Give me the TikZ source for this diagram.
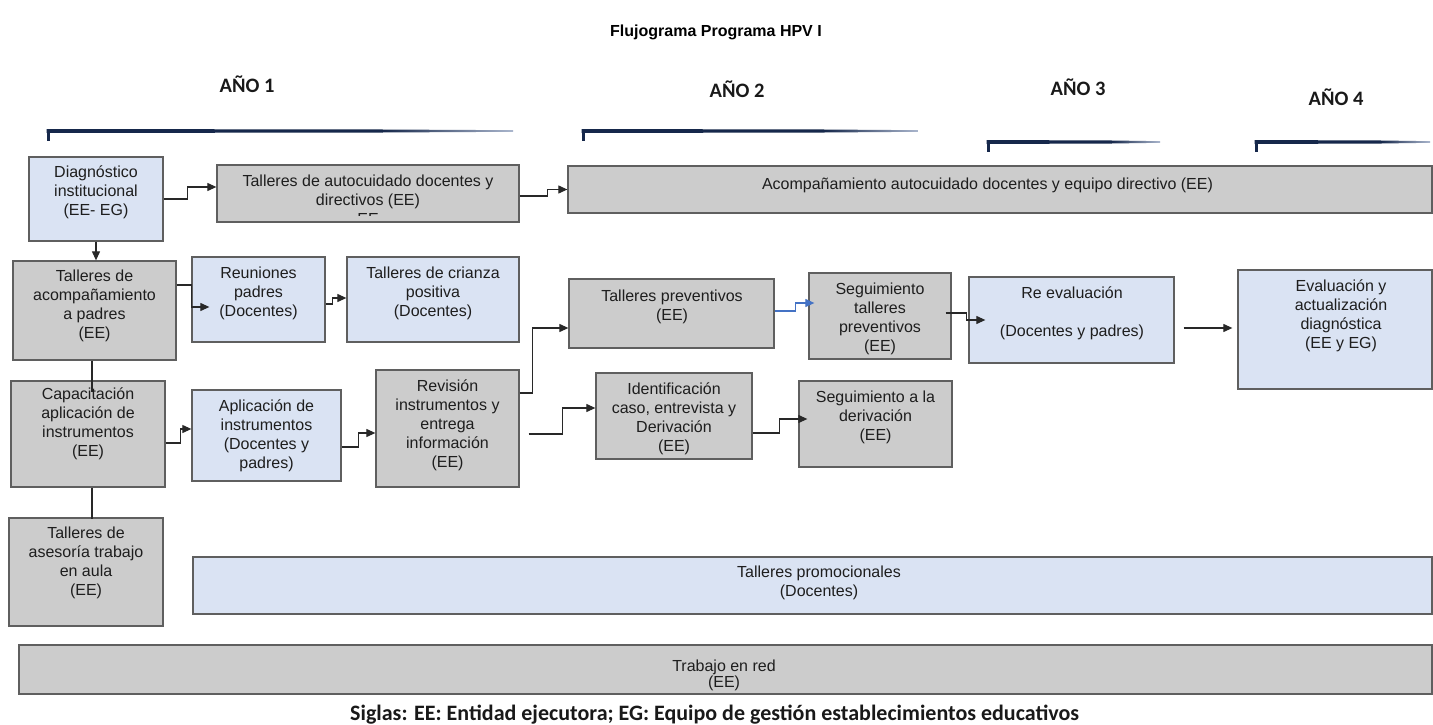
\documentclass[tikz,border=0pt]{standalone}
\usepackage{fontspec}
\setmainfont{Liberation Sans}
\newfontfamily\calib{Carlito}
\usetikzlibrary{calc,arrows.meta}
\definecolor{lblue}{RGB}{218,227,243}
\definecolor{lgray}{RGB}{204,204,204}
\definecolor{bord}{RGB}{95,95,95}
\definecolor{navy}{RGB}{22,40,75}
\definecolor{navyl}{RGB}{170,182,205}
\definecolor{conn}{RGB}{40,40,40}
\definecolor{bluec}{RGB}{68,114,196}
\definecolor{txtc}{RGB}{30,30,30}
\newcommand\mybox[6]{%
  \pgfmathsetmacro\cxx{(#3+#5)/2}\pgfmathsetmacro\cyy{(#4+#6)/2}%
  \pgfmathsetmacro\ww{#5-#3}\pgfmathsetmacro\hh{#6-#4}%
  \node[#2, minimum width=\ww pt, minimum height=\hh pt] (#1) at (\cxx,\cyy) {};}
\newcommand\yearbar[3]{%
  \pgfmathsetmacro\xm{#1+0.72*(#2-#1)}%
  \fill[navy] (#1-1.5,#3-2) -- (\xm,#3-1.5) -- (\xm,#3+1.5) -- (#1-1.5,#3+2) -- cycle;
  \shade[left color=navy, right color=navyl] (\xm,#3-1.5) -- (#2,#3-0.8) -- (#2,#3+0.8) -- (\xm,#3+1.5) -- cycle;
  \fill[navy] (#1-1.5,#3-2) rectangle (#1+1.5,#3+10);}
\begin{document}
\begin{tikzpicture}[x=1pt,y=-1pt,
  bxg/.style={draw=bord,line width=1.3pt,fill=lgray,inner sep=0pt},
  bxb/.style={draw=bord,line width=1.3pt,fill=lblue,inner sep=0pt},
  txt/.style={align=center,font=\fontsize{16}{19}\selectfont,inner sep=0pt,text=txtc},
  yr/.style={font=\calib\bfseries\fontsize{20.5}{23}\selectfont,inner sep=0pt,text=black!90},
  ln/.style={draw=conn,line width=1.1pt},
  arr/.style={ln,-{Triangle[length=9pt,width=8pt]}},
]
\fill[white] (0,0) rectangle (1433,725);
\useasboundingbox (0,0) rectangle (1433,725);

% title and years
\node[font=\bfseries\fontsize{16}{19}\selectfont,inner sep=0pt] (title) at (716,32) {Flujograma Programa HPV I};
\node[yr] (y1) at (247,84.5) {AÑO 1};
\node[yr] (y2) at (737,89) {AÑO 2};
\node[yr] (y3) at (1078,87.5) {AÑO 3};
\node[yr] (y4) at (1336,97.5) {AÑO 4};
\yearbar{48}{513}{131}
\yearbar{583}{918}{131}
\yearbar{988}{1160}{142}
\yearbar{1256}{1430}{142}

% boxes
\mybox{diag}{bxb}{29}{157}{163}{241}
\mybox{auto}{bxg}{217}{165}{519}{222}
\mybox{acompA}{bxg}{568}{166}{1432}{213}
\mybox{acomp}{bxg}{13}{261}{176}{360}
\mybox{reun}{bxb}{192}{257}{325}{342}
\mybox{crianza}{bxb}{347}{257}{519}{342}
\mybox{capac}{bxg}{11}{381}{165}{487}
\mybox{aplic}{bxb}{192}{390}{341}{481}
\mybox{revis}{bxg}{376}{370}{519}{487}
\mybox{aseso}{bxg}{9}{518}{163}{626}
\mybox{prev}{bxg}{569}{279}{774}{348}
\mybox{segt}{bxg}{809}{273}{951}{359}
\mybox{ident}{bxg}{596}{373}{752}{459}
\mybox{segd}{bxg}{799}{381}{952}{467}
\mybox{reev}{bxb}{969}{277}{1174}{363}
\mybox{eval}{bxb}{1238}{270}{1432}{389}
\mybox{promo}{bxb}{193}{557}{1432}{614}
\mybox{red}{bxg}{19}{645}{1432}{694}

% connectors
\draw[arr] (diag.east) -- ++(24,0) |- ($(auto.west)+(0,-6.5)$);
\draw[arr] (diag.south) -- (diag.south |- acomp.north);
\draw[arr] ($(acomp.east)+(0,-25.5)$) -| ($(reun.west)+(0,7.5)$) -- ++(18,0);
\draw[arr] ($(reun.east)+(0,4.5)$) -- ++(7,0) |- ($(crianza.west)+(0,-1.5)$);
\draw[arr] ($(auto.east)+(0,2.5)$) -- ++(28,0) |- (acompA.west);
\draw[ln] ($(acomp.south)+(-2.5,0)$) -- ++(0,31);
\draw[arr] ($(capac.east)+(0,9)$) -- ++(15,0) |- ($(aplic.west)+(0,-6.5)$);
\draw[arr] ($(aplic.east)+(0,11.5)$) -- ++(17,0) |- ($(revis.west)+(0,4.5)$);
\draw[ln] ($(capac.south)+(4,0)$) -- ++(0,31);
\draw[arr] ($(revis.east)+(0,-35.5)$) -- ++(13,0) |- ($(prev.west)+(0,14.5)$);
\draw[arr] ($(revis.east)+(9,5.5)$) -- ++(34,0) |- ($(ident.west)+(0,-8)$);
\draw[arr] ($(ident.east)+(0,17)$) -- ++(27,0) |- ($(segd.west)+(9,-5)$);
\draw[arr,draw=bluec] ($(prev.east)+(0,-2.5)$) -- ++(21,0) |- ($(segt.west)+(6,-13)$);
\draw[arr] ($(segt.east)+(-6,-3)$) -- ++(21,0) |- ($(reev.west)+(17,0)$);
\draw[arr] ($(reev.east)+(9,8)$) -- ($(eval.west)+(-5,-1.5)$);

% texts
\node[txt] (diagT) at (96,192) {Diagnóstico\\institucional\\(EE- EG)};
\node[txt] (autoT) at (368,192) {Talleres de autocuidado docentes y\\directivos (EE)};
\begin{scope}
  \clip (300,205) rectangle (440,215.5);
  \node[txt] (autoEE) at (368,219.3) {EE};
\end{scope}
\node[txt] (acompAT) at (987.5,185) {Acompañamiento autocuidado docentes y equipo directivo (EE)};
\node[txt] (acompT) at (94.5,306) {Talleres de\\acompañamiento\\a padres\\(EE)};
\node[txt] (reunT) at (258.5,293) {Reuniones\\padres\\(Docentes)};
\node[txt] (crianzaT) at (433,293) {Talleres de crianza\\positiva\\(Docentes)};
\node[txt] (capacT) at (88,424) {Capacitación\\aplicación de\\instrumentos\\(EE)};
\node[txt] (aplicT) at (266.5,436) {Aplicación de\\instrumentos\\(Docentes y\\padres)};
\node[txt] (revisT) at (447.5,425) {Revisión\\instrumentos y\\entrega\\información\\(EE)};
\node[txt] (asesoT) at (86,563) {Talleres de\\asesoría trabajo\\en aula\\(EE)};
\node[txt] (prevT) at (672,306.5) {Talleres preventivos\\(EE)};
\node[txt] (segtT) at (880,318.5) {Seguimiento\\talleres\\preventivos\\(EE)};
\node[txt] (identT) at (674,419) {Identificación\\caso, entrevista y\\Derivación\\(EE)};
\node[txt] (segdT) at (875.5,417) {Seguimiento a la\\derivación\\(EE)};
\node[txt] (reevT) at (1072,313) {Re evaluación\\[19pt](Docentes y padres)};
\node[txt] (evalT) at (1341,316) {Evaluación y\\actualización\\diagnóstica\\(EE y EG)};
\node[txt] (promoT) at (819,583) {Talleres promocionales\\(Docentes)};
\node[txt,font=\fontsize{16}{16}\selectfont] (redT) at (724,675) {Trabajo en red\\(EE)};

\node[anchor=base west,font=\calib\bfseries\fontsize{22}{25}\selectfont,inner sep=0pt,text=black!90] (siglas) at (350,720) {Siglas: EE: Entidad ejecutora; EG: Equipo de gestión establecimientos educativos};
\end{tikzpicture}
\end{document}
